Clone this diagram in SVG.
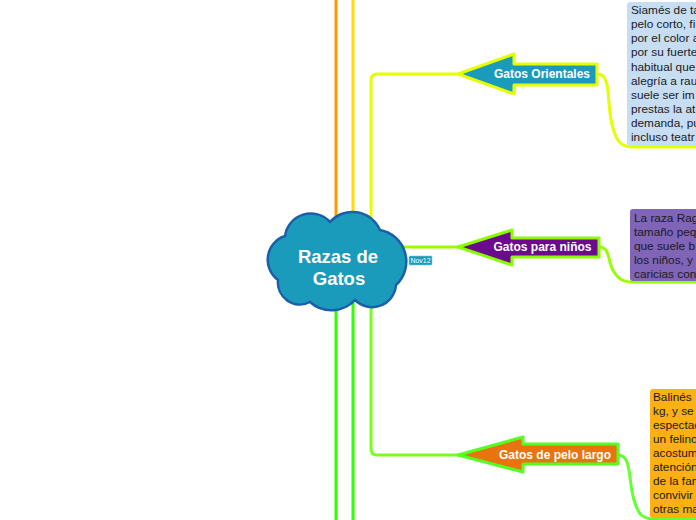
<svg xmlns="http://www.w3.org/2000/svg" width="696" height="520" viewBox="0 0 696 520">
<style>
.t{font-family:"Liberation Sans",Arial,sans-serif;font-size:11.8px;fill:#1a1a1a}
.lbl{font-family:"Liberation Sans",Arial,sans-serif;font-size:12px;font-weight:bold;fill:#ffffff;text-anchor:middle}
.ln{fill:none;stroke-width:3;stroke-linecap:round;stroke-linejoin:round}
</style>
<rect width="696" height="520" fill="#ffffff"/>
<g id="connectors">
<line class="ln" x1="336" y1="0" x2="336" y2="240" stroke="#ff9900"/>
<line class="ln" x1="353" y1="0" x2="353" y2="240" stroke="#ffdd00"/>
<line class="ln" x1="336" y1="290" x2="336" y2="522" stroke="#33ff00"/>
<line class="ln" x1="353" y1="290" x2="353" y2="522" stroke="#33ff00"/>
<path class="ln" d="M371,240 L371,80 Q371,74 377,74 L460,74" stroke="#e5ff00"/>
<path class="ln" d="M371,247 L460,247" stroke="#99ff00"/>
<path class="ln" d="M371,260 L371,449 Q371,455 377,455 L460,455" stroke="#77ff22"/>
<path class="ln" d="M597,74 C612,74 606,100 612,125 C616,140 620,147 632,147 L696,147" stroke="#e5ff00"/>
<path class="ln" d="M599,247 C611,247 607,262 614,272 C619,280 624,282 634,282 L696,282" stroke="#99ff00"/>
<path class="ln" d="M618,455 C632,455 628,480 634,500 C638,514 642,519 654,519 L696,519" stroke="#66ff33"/>
</g>
<g id="root">
<path d="M278,280 A25,25 0 0 1 285,236 A26,26 0 0 1 330,222 A30,30 0 0 1 380,230 A32,32 0 0 1 396,285 A24,24 0 0 1 355,300 A32,32 0 0 1 310,302 A22,22 0 0 1 278,280 Z" fill="#1a9bbb" stroke="#1a5fa8" stroke-width="2.5"/>
<text x="338" y="263" font-family="Liberation Sans,Arial,sans-serif" font-size="18.5" font-weight="bold" fill="#ffffff" text-anchor="middle">Razas de</text>
<text x="339" y="285" font-family="Liberation Sans,Arial,sans-serif" font-size="18.5" font-weight="bold" fill="#ffffff" text-anchor="middle">Gatos</text>
</g>
<g id="tag">
<rect x="409" y="256" width="23" height="9" rx="1" fill="#1a9bbb" stroke="#7cc8dc" stroke-width="0.6"/>
<text x="420.5" y="263" font-family="Liberation Sans,Arial,sans-serif" font-size="7" fill="#ffffff" text-anchor="middle">Nov12</text>
</g>
<g id="n-orientales">
<polygon points="458,74 514,54 514,64 597,64 597,85 514,85 514,94" fill="#1a9bbb" stroke="#e5ff00" stroke-width="3" stroke-linejoin="round"/>
<text class="lbl" x="542" y="78">Gatos Orientales</text>
</g>
<g id="n-ninos">
<polygon points="458,247 512,230 512,238 599,238 599,257 512,257 512,265" fill="#6b0a8c" stroke="#88ff00" stroke-width="3" stroke-linejoin="round"/>
<text class="lbl" x="542.5" y="251">Gatos para niños</text>
</g>
<g id="n-pelolargo">
<polygon points="458,455 523,437 523,444 618,444 618,464 523,464 523,472" fill="#e8730f" stroke="#55ff22" stroke-width="3" stroke-linejoin="round"/>
<text class="lbl" x="555" y="459">Gatos de pelo largo</text>
</g>
<g id="d-orientales">
<rect x="627" y="2" width="80" height="144" rx="3" fill="#c6ddf2"/>
<text class="t" x="631" y="14">Siamés de ta</text>
<text class="t" x="631" y="28">pelo corto, fi</text>
<text class="t" x="631" y="42">por el color a</text>
<text class="t" x="631" y="56">por su fuerte</text>
<text class="t" x="631" y="71">habitual que</text>
<text class="t" x="631" y="85">alegría a rau</text>
<text class="t" x="631" y="99">suele ser im</text>
<text class="t" x="631" y="113">prestas la at</text>
<text class="t" x="631" y="127">demanda, pu</text>
<text class="t" x="631" y="141">incluso teatr</text>
</g>
<g id="d-ninos">
<rect x="630" y="209" width="80" height="72" rx="3" fill="#8064b8"/>
<text class="t" x="634" y="222">La raza Rag</text>
<text class="t" x="634" y="236">tamaño peq</text>
<text class="t" x="634" y="250">que suele b</text>
<text class="t" x="634" y="264">los niños, y</text>
<text class="t" x="634" y="278">caricias con</text>
</g>
<g id="d-pelolargo">
<rect x="650" y="389" width="60" height="129" rx="3" fill="#fbb014"/>
<text class="t" x="653" y="401">Balinés</text>
<text class="t" x="653" y="415">kg, y se</text>
<text class="t" x="653" y="429">espectac</text>
<text class="t" x="653" y="443">un felino</text>
<text class="t" x="653" y="457">acostum</text>
<text class="t" x="653" y="471">atención</text>
<text class="t" x="653" y="485">de la fam</text>
<text class="t" x="653" y="499">convivir</text>
<text class="t" x="653" y="513">otras ma</text>
</g>
</svg>
